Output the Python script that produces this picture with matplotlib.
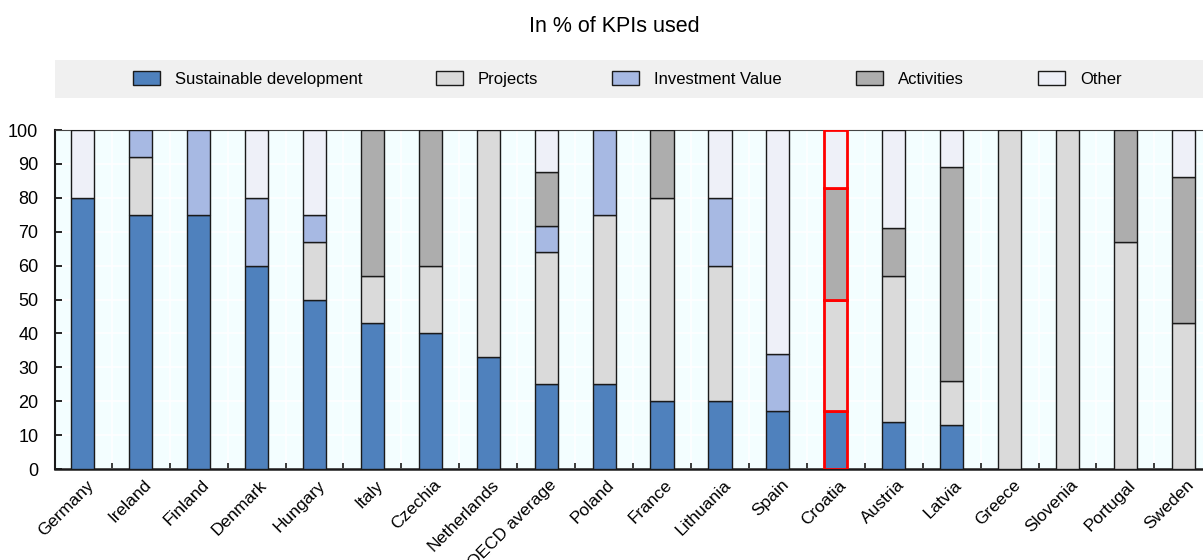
import matplotlib
matplotlib.use("Agg")
import matplotlib.pyplot as plt
import matplotlib.patches as mpatches
import numpy as np
from matplotlib import font_manager

names = {f.name for f in font_manager.fontManager.ttflist}
fam = ["Liberation Sans Narrow"] if "Liberation Sans Narrow" in names else ["Liberation Sans"]
plt.rcParams['font.family'] = fam + ["DejaVu Sans"]

countries = ["Germany", "Ireland", "Finland", "Denmark", "Hungary", "Italy", "Czechia",
             "Netherlands", "OECD average", "Poland", "France", "Lithuania", "Spain",
             "Croatia", "Austria", "Latvia", "Greece", "Slovenia", "Portugal", "Sweden"]
sustainable = [80, 75, 75, 60, 50, 43, 40, 33, 25.2, 25, 20, 20, 17, 17, 14, 13, 0, 0, 0, 0]
projects    = [0, 17, 0, 0, 17, 14, 20, 67, 38.8, 50, 60, 40, 0, 33, 43, 13, 100, 100, 67, 43]
investment  = [0, 8, 25, 20, 8, 0, 0, 0, 7.7, 25, 0, 20, 17, 0, 0, 0, 0, 0, 0, 0]
activities  = [0, 0, 0, 0, 0, 43, 40, 0, 16.0, 0, 20, 0, 0, 33, 14, 63, 0, 0, 33, 43]
other       = [20, 0, 0, 20, 25, 0, 0, 0, 12.3, 0, 0, 20, 66, 17, 29, 11, 0, 0, 0, 14]

series = [("Sustainable development", sustainable, "#4F81BD"),
          ("Projects", projects, "#DADADA"),
          ("Investment Value", investment, "#A7B9E3"),
          ("Activities", activities, "#ADADAD"),
          ("Other", other, "#EEF0F8")]

W, H = 1203, 560
fig = plt.figure(figsize=(W/100, H/100), dpi=100)
ax = fig.add_axes([55/W, 1-469/H, 1-55/W, (469-130)/H])
ax.set_facecolor("#F3FEFF")

x = np.arange(len(countries))
bottom = np.zeros(len(countries))
for name, vals, col in series:
    vals = np.array(vals, dtype=float)
    edges = ["red" if c == "Croatia" else "#1a1a1a" for c in countries]
    lws = [2.0 if c == "Croatia" else 1.0 for c in countries]
    mask = vals > 0
    ax.bar(x[mask], vals[mask], bottom=bottom[mask], width=0.4, color=col,
           edgecolor=np.array(edges)[mask], linewidth=np.array(lws)[mask], zorder=3)
    bottom += vals

ax.set_xlim(-0.48, 19.34)
ax.set_ylim(0, 100)
ax.set_yticks(np.arange(0, 101, 10))
ax.set_xticks(x + 0.05)
ax.set_xticklabels(countries, rotation=45, ha="right", rotation_mode="anchor", fontsize=12.5)
ax.set_xticks(x[:-1] + 0.5, minor=True)
ax.tick_params(axis="x", which="major", length=0, pad=6)
ax.tick_params(axis="x", which="minor", direction="in", length=4, width=1.2, color="#1a1a1a")
ax.tick_params(axis="y", direction="in", length=5, width=1.2, labelsize=13, pad=12)
ax.yaxis.grid(True, color="white", linewidth=1.2, zorder=0)
ax.xaxis.grid(True, which="minor", color="white", linewidth=1.2, zorder=0)
ax.set_axisbelow(True)
ax.spines["right"].set_visible(False)
ax.spines["top"].set_color("#444444")
ax.spines["left"].set_linewidth(1.5)
ax.spines["bottom"].set_linewidth(1.8)
ax.spines["left"].set_color("#1a1a1a")
ax.spines["bottom"].set_color("#1a1a1a")

fig.text(614/W, 1-26/H, "In % of KPIs used", ha="center", va="center", fontsize=15.5)

rect = mpatches.Rectangle((55/W, 1-98/H), 1-55/W, 38/H, transform=fig.transFigure,
                          facecolor="#F0F0F0", edgecolor="none", zorder=0)
fig.patches.append(rect)
handles = [mpatches.Patch(facecolor=c, edgecolor="#1a1a1a", linewidth=1.0) for _, _, c in series]
fig.legend(handles, [n for n, _, _ in series], loc="center", bbox_to_anchor=(627/W, 1-79/H),
           ncol=5, frameon=False, fontsize=12, handlelength=1.62, handleheight=0.96,
           handletextpad=0.9, columnspacing=4.44)

fig.savefig("out.png", dpi=100)
